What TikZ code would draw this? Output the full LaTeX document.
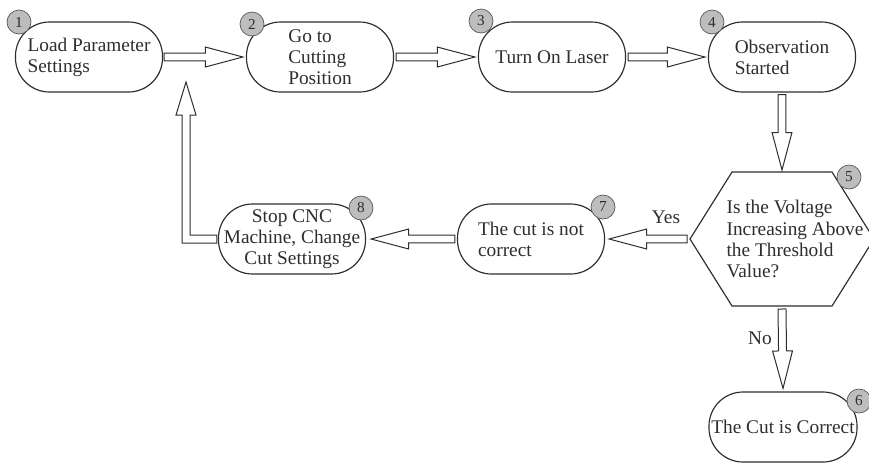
\documentclass[tikz,border=0pt]{standalone}
\usepackage{fontspec}
\setmainfont{Liberation Serif}
\usetikzlibrary{calc}
\definecolor{badgegray}{HTML}{BDBDBD}
\definecolor{inkgray}{HTML}{2E2E2E}

\tikzset{
  stage/.style={draw=inkgray,line width=1pt,rounded corners=1.02cm,minimum width=4.41cm,
    minimum height=2.1cm,inner sep=2pt,font=\fontsize{16.5}{18}\selectfont,text=inkgray},
  badge/.style={circle,draw=gray!70!black,fill=badgegray,line width=0.6pt,minimum size=0.72cm,
    inner sep=0pt,font=\fontsize{13}{13}\selectfont,text=inkgray},
  flowarrow/.style={draw=inkgray,line width=0.85pt,fill=white,line join=miter},
  lbl/.style={font=\fontsize{16.5}{18}\selectfont,text=inkgray}
}

% hollow block arrow from #1 to #2
\newcommand{\blockarrow}[2]{%
  \draw[flowarrow] let \p1=(#1), \p2=(#2),
      \n1={atan2(\y2-\y1,\x2-\x1)}, \n2={veclen(\x2-\x1,\y2-\y1)} in
    [shift={(\p1)},rotate=\n1]
    (0pt,-3.4pt) -- ({\n2*1pt-32pt},-3.4pt) -- ({\n2*1pt-32pt},-8.5pt) -- ({\n2*1pt},0pt)
    -- ({\n2*1pt-32pt},8.5pt) -- ({\n2*1pt-32pt},3.4pt) -- (0pt,3.4pt) -- cycle;}

\begin{document}
\begin{tikzpicture}[x=0.03cm,y=-0.03cm]
  \useasboundingbox (0,0) rectangle (869,462);
  % Top row
  \node[stage,align=left] (s1) at (89,57) {Load Parameter\\Settings};
  \node[stage,align=left] (s2) at (320,57) {Go to\\Cutting\\Position};
  \node[stage] (s3) at (552,57) {Turn On Laser};
  \node[stage,align=left] (s4) at (782,57) {Observation\\Started};
  % Decision
  \coordinate (hx) at (782,239);
  \draw[draw=inkgray,line width=1pt,fill=white] (hx) ++(-92,0) coordinate (q5w)
    -- ++(42,-67) -- ++(100,0) -- ++(42,67) -- ++(-42,67) -- ++(-100,0) -- cycle;
  \coordinate (q5n) at (782,172);
  \coordinate (q5s) at (782,306);
  \node[lbl,align=left] (q5) at (795,239) {Is the Voltage\\Increasing Above\\the Threshold\\Value?};
  % Bottom row
  \node[stage,align=left] (s7) at (531,239) {The cut is not\\correct};
  \node[stage,align=center] (s8) at (292,239) {Stop CNC\\Machine, Change\\Cut Settings};
  \node[stage] (s6) at (783,427) {The Cut is Correct};
  % Arrows
  \blockarrow{$(s1.east)+(1,0)$}{$(s2.west)+(-3,0)$}
  \blockarrow{$(s2.east)+(2,0)$}{$(s3.west)+(-3,0)$}
  \blockarrow{$(s3.east)+(2,0)$}{$(s4.west)+(-3,0)$}
  \blockarrow{$(s4.south)+(0,2)$}{$(q5n)+(0,-2)$}
  \blockarrow{$(q5w)+(-3,0)$}{$(s7.east)+(4,0)$}
  \blockarrow{$(s7.west)+(-2,0)$}{$(s8.east)+(5,0)$}
  \blockarrow{$(q5s)+(0,3)$}{$(s6.north)+(0,-3)$}
  \coordinate (ret) at (186,82);
  \draw[flowarrow] ($(s8.west)+(-1,4)$) -| ($(ret)+(-4,33)$) -- ++(-6,0) -- (ret)
    -- ++(10,33) -- ++(-6,0) |- ($(s8.west)+(-1,-4)$) -- cycle;
  \node[lbl] (yes) at (666,217) {Yes};
  \node[lbl] (no) at (760,338) {No};
  % Step numbers
  \foreach \n/\x/\y in {1/19/22,2/252/24,3/481/21,4/712/22,5/849/177,6/859/401,7/603/207,8/361/208}
    \node[badge] (b\n) at (\x,\y) {\n};
\end{tikzpicture}
\end{document}
